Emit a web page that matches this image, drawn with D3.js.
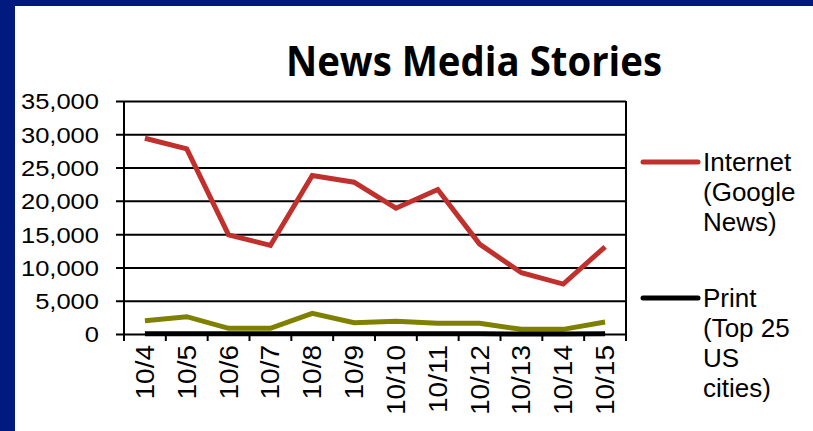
<!DOCTYPE html>
<html>
<head>
<meta charset="utf-8">
<script src="https://cdn.jsdelivr.net/npm/d3@7"></script>
<style>
  body { margin: 0; background: #fff; }
  svg { display: block; }
</style>
</head>
<body>
<svg></svg>
<script>
'use strict'

const dates = ['10/4', '10/5', '10/6', '10/7', '10/8', '10/9', '10/10', '10/11', '10/12', '10/13', '10/14', '10/15']
const internet = [29400, 27800, 14900, 13300, 23800, 22800, 18900, 21700, 13500, 9200, 7500, 13100]
const broadcast = [2000, 2600, 850, 850, 3100, 1700, 1900, 1600, 1600, 700, 700, 1800]
const print = [25, 30, 20, 20, 35, 25, 25, 20, 20, 15, 15, 20]
const yTicks = [0, 5000, 10000, 15000, 20000, 25000, 30000, 35000]

const W = 813,
  H = 431
const plot = { left: 124, right: 626, top: 101, bottom: 334 }

const svg = d3.select('svg').attr('width', W).attr('height', H)

// slide frame
svg.append('rect').attr('width', W).attr('height', H).attr('fill', '#fff')
svg.append('rect').attr('width', W).attr('height', 6).attr('fill', '#001a80')
svg.append('rect').attr('width', 15).attr('height', H).attr('fill', '#001a80')

svg
  .append('text')
  .attr('x', 474)
  .attr('y', 76)
  .attr('text-anchor', 'middle')
  .attr('font-family', '"Open Sans", sans-serif')
  .attr('font-weight', 700)
  .attr('font-size', 41)
  .attr('textLength', 376)
  .attr('lengthAdjust', 'spacingAndGlyphs')
  .text('News Media Stories')

const x = d3
  .scaleBand()
  .domain(dates)
  .range([plot.left, plot.right])

const y = d3
  .scaleLinear()
  .domain([0, 35000])
  .range([plot.bottom, plot.top])

// gridlines doubling as y ticks
const yAxis = svg
  .append('g')
  .attr('transform', 'translate(' + plot.left + ',0)')
  .call(
    d3
      .axisLeft(y)
      .tickValues(yTicks)
      .tickSize(8)
      .tickPadding(17)
      .tickFormat(d3.format(','))
  )
yAxis.select('.domain').remove()
yAxis
  .selectAll('.tick line')
  .attr('x1', -8)
  .attr('x2', plot.right - plot.left)
  .attr('stroke', '#000')
  .attr('stroke-width', 2)
yAxis
  .selectAll('text')
  .attr('font-family', '"Liberation Sans", Arial, sans-serif')
  .attr('font-size', 22)
  .attr('fill', '#000')
  .attr('dy', '0.36em')
  .each(function() {
    const w = this.getComputedTextLength()
    d3.select(this).attr('textLength', w * 1.16).attr('lengthAdjust', 'spacingAndGlyphs')
  })

// left axis and right edge
svg
  .append('line')
  .attr('x1', plot.left)
  .attr('x2', plot.left)
  .attr('y1', plot.top)
  .attr('y2', plot.bottom + 7)
  .attr('stroke', '#000')
  .attr('stroke-width', 2)
svg
  .append('line')
  .attr('x1', plot.right)
  .attr('x2', plot.right)
  .attr('y1', plot.top)
  .attr('y2', plot.bottom + 7)
  .attr('stroke', '#000')
  .attr('stroke-width', 2)

// category ticks at band edges
const edges = dates.map(d => x(d)).slice(1)
svg
  .selectAll('.xtick')
  .data(edges)
  .enter()
  .append('line')
  .attr('class', 'xtick')
  .attr('x1', d => d)
  .attr('x2', d => d)
  .attr('y1', plot.bottom)
  .attr('y2', plot.bottom + 7)
  .attr('stroke', '#000')
  .attr('stroke-width', 2)

svg
  .selectAll('.xlabel')
  .data(dates)
  .enter()
  .append('text')
  .attr('class', 'xlabel')
  .attr('transform', d => 'translate(' + (x(d) + x.bandwidth() / 2) + ',345) rotate(-90)')
  .attr('text-anchor', 'end')
  .attr('dy', '0.36em')
  .attr('font-family', '"Liberation Sans", Arial, sans-serif')
  .attr('font-size', 25)
  .text(d => d)
  .each(function() {
    const w = this.getComputedTextLength()
    d3.select(this).attr('textLength', w * 1.12).attr('lengthAdjust', 'spacingAndGlyphs')
  })

const series = [
  { name: 'Broadcast', values: broadcast, color: '#808000' },
  { name: 'Print (Top 25 US cities)', values: print, color: '#000000' },
  { name: 'Internet (Google News)', values: internet, color: '#c0312d' }
]

const line = d3
  .line()
  .x((d, i) => x(dates[i]) + x.bandwidth() / 2)
  .y(d => y(d))

svg
  .selectAll('.series')
  .data(series)
  .enter()
  .append('path')
  .attr('class', 'series')
  .attr('d', d => line(d.values))
  .attr('fill', 'none')
  .attr('stroke', d => d.color)
  .attr('stroke-width', 5)
  .attr('stroke-linejoin', 'miter')

// legend
const legendItems = [
  { lines: ['Internet', '(Google', 'News)'], color: '#c0312d', y: 162 },
  { lines: ['Print', '(Top 25', 'US', 'cities)'], color: '#000000', y: 298 }
]

const legend = svg
  .selectAll('.legend')
  .data(legendItems)
  .enter()
  .append('g')
  .attr('class', 'legend')

legend
  .append('line')
  .attr('x1', 643)
  .attr('x2', 698)
  .attr('y1', d => d.y)
  .attr('y2', d => d.y)
  .attr('stroke', d => d.color)
  .attr('stroke-width', 5)
  .attr('stroke-linecap', 'round')

legend
  .append('text')
  .attr('font-family', '"Liberation Sans", Arial, sans-serif')
  .attr('font-size', 26)
  .attr('fill', '#000')
  .each(function(d) {
    d3.select(this)
      .selectAll('tspan')
      .data(d.lines)
      .enter()
      .append('tspan')
      .attr('x', 703)
      .attr('y', (t, i) => d.y + 9 + i * 30)
      .text(t => t)
  })
</script>
</body>
</html>
